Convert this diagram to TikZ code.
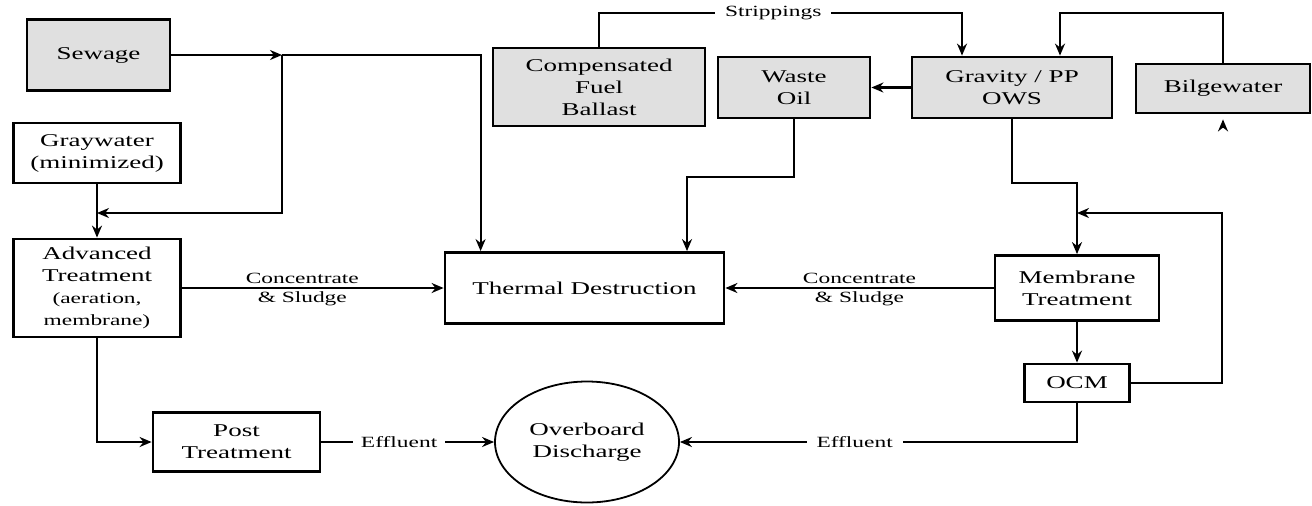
\documentclass[tikz,border=0pt]{standalone}
\usepackage{fontspec}
\setmainfont[FakeStretch=1.5]{Liberation Serif}
\usetikzlibrary{arrows.meta,calc,shapes.geometric}
\newcommand{\lblsize}{\fontsize{7.8}{9.5}\selectfont}

\begin{document}
\begin{tikzpicture}[x=0.5pt, y=-0.5pt,
    box/.style={draw, line width=1.4pt, align=center, inner sep=0pt, font=\fontsize{9}{11}\selectfont},
    greybox/.style={box, fill=black!12},
    lbl/.style={font=\lblsize, inner sep=1.5pt},
    arr/.style={line width=1.1pt, -{Stealth[length=6pt,width=5pt]}}]
    \useasboundingbox (0,0) rectangle (1312,505);

    % Sources
    \node[greybox, minimum width=71.5pt, minimum height=35.5pt] (sewage) at (98.5,55) {Sewage};
    \node[box, minimum width=83.5pt, minimum height=30pt] (gray) at (97,153) {Graywater\\(minimized)};
    \node[greybox, minimum width=106pt, minimum height=39pt] (comp) at (599,87) {Compensated\\Fuel\\Ballast};
    \node[greybox, minimum width=76pt, minimum height=30.5pt] (waste) at (794,87.5) {Waste\\Oil};
    \node[greybox, minimum width=100pt, minimum height=30.5pt] (grav) at (1012,87.5) {Gravity / PP\\OWS};
    \node[greybox, minimum width=87pt, minimum height=24.5pt] (bilge) at (1223,88.5) {Bilgewater};

    % Treatment
    \node[box, minimum width=83.5pt, minimum height=49pt] (adv) at (97,288) {Advanced\\Treatment\\{\lblsize (aeration,}\\{\lblsize membrane)}};
    \node[box, minimum width=139.5pt, minimum height=35.5pt] (thermal) at (584.5,288) {Thermal Destruction};
    \node[box, minimum width=82pt, minimum height=32.5pt] (memb) at (1077,288) {Membrane\\Treatment};
    \node[box, minimum width=52.5pt, minimum height=19pt] (ocm) at (1077,383) {OCM};
    \node[box, minimum width=83.5pt, minimum height=29.5pt] (post) at (236.5,442) {Post\\Treatment};
    \node[box, ellipse, line width=0.9pt, minimum width=92pt, minimum height=60.5pt] (over) at (587,442) {Overboard\\Discharge};

    % Connectors
    \coordinate (j1) at (282,55);
    \coordinate (j2) at (97,213);
    \draw[arr] (sewage.east) -- (j1);
    \draw[arr] (j1) -| ([xshift=18.5pt]thermal.north west);
    \draw[arr] (j1) |- (j2);
    \draw[arr] (gray) -- (adv);
    \draw[arr] (adv) -- node[lbl, above, pos=.46] {Concentrate} node[lbl, below, pos=.46] {\& Sludge} (thermal);
    \draw[arr] (adv.south) |- (post.west);
    \draw[arr] (post) -- node[lbl, fill=white, pos=.45, inner sep=4pt] {Effluent} (over);

    \coordinate (s1) at (962,13);
    \draw[arr] (comp.north) |- node[lbl, fill=white, pos=.74, inner sep=5pt] {Strippings} (s1) -- (s1 |- grav.north);
    \coordinate (b1) at (1060,13);
    \draw[arr] (bilge.north) |- (b1) -- (b1 |- grav.north);
    \draw[arr] ([yshift=-7pt]bilge.south) -- ([yshift=-2.5pt]bilge.south);
    \draw[arr] (grav) -- (waste);
    \coordinate (w1) at (687,177);
    \draw[arr] (waste.south) |- (w1) -- (w1 |- thermal.north);

    \coordinate (g1) at (1077,183);
    \draw[arr] (grav.south) |- (g1) -- (memb);
    \draw[arr] (memb) -- node[lbl, above] {Concentrate} node[lbl, below] {\& Sludge} (thermal);
    \draw[arr] (memb) -- (ocm);
    \coordinate (r1) at (1222,213);
    \draw[arr] (ocm.east) -| (r1) -- (r1 -| g1);
    \draw[arr] (ocm.south) |- node[lbl, fill=white, pos=.78, inner sep=5pt] {Effluent} (over.east);
\end{tikzpicture}
\end{document}
